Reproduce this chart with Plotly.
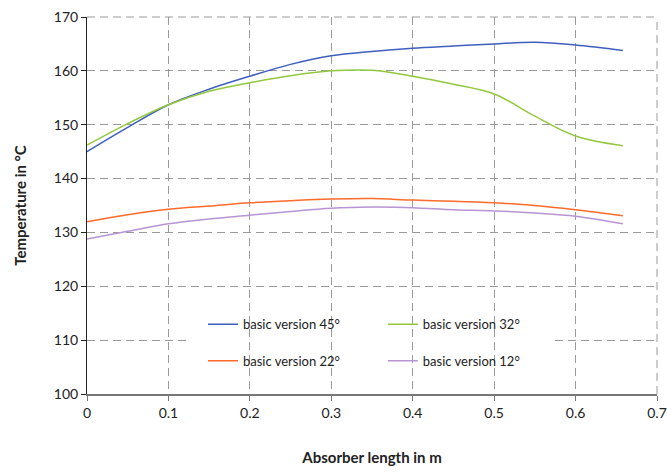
import plotly.graph_objects as go

x_m = [0, 0.05, 0.1, 0.15, 0.2, 0.25, 0.3, 0.35, 0.4, 0.45, 0.5, 0.55, 0.6, 0.658]
t45 = [145.0, 149.5, 153.7, 156.6, 159.0, 161.2, 162.8, 163.6, 164.2, 164.6, 165.0, 165.3, 164.8, 163.8]
t32 = [146.2, 150.2, 153.7, 156.2, 157.8, 159.1, 160.0, 160.1, 159.0, 157.5, 155.7, 151.6, 147.9, 146.1]
t22 = [132.0, 133.3, 134.3, 134.9, 135.5, 135.9, 136.2, 136.3, 136.0, 135.8, 135.5, 135.0, 134.2, 133.1]
t12 = [128.8, 130.2, 131.6, 132.5, 133.2, 133.9, 134.5, 134.7, 134.6, 134.2, 134.0, 133.6, 133.0, 131.6]

x_ticks = [0, 0.1, 0.2, 0.3, 0.4, 0.5, 0.6, 0.7]
x_ticktext = ["0", "0.1", "0.2", "0.3", "0.4", "0.5", "0.6", "0.7"]
y_ticks = [100, 110, 120, 130, 140, 150, 160, 170]

names = ["basic version 45°", "basic version 32°", "basic version 22°", "basic version 12°"]
colors = ["#3F5FBF", "#92C83E", "#FF6B2B", "#B894D4"]
series = [t45, t32, t22, t12]
legend_ids = ["legend2", "legend3", "legend4", "legend5"]
legend_pos = [(0.2035, 0.185), (0.519, 0.185), (0.2035, 0.088), (0.519, 0.088)]

FONT = "Lato, 'Open Sans', sans-serif"
GRID = "#9a9a9a"
DASH = "8px,5px"

fig = go.Figure()
for n, c, s, lg in zip(names, colors, series, legend_ids):
    fig.add_trace(go.Scatter(x=x_m, y=s, mode="lines", name=n, legend=lg,
                             line=dict(color=c, width=1.5, shape="spline")))

legend_layout = {}
for lg, (lx, ly) in zip(legend_ids, legend_pos):
    legend_layout[lg] = dict(x=lx, y=ly, xanchor="left", yanchor="middle",
                             bgcolor="rgba(0,0,0,0)",
                             font=dict(size=13, family=FONT, color="#222"))

fig.update_layout(
    width=667, height=472,
    margin=dict(l=87, r=10, t=17, b=78),
    plot_bgcolor="white", paper_bgcolor="white",
    font=dict(family=FONT, size=14, color="#222"),
    xaxis=dict(range=[0, 0.7], tickvals=x_ticks, ticktext=x_ticktext, automargin=False,
               ticklabeloverflow="allow",
               showgrid=True, gridcolor=GRID, griddash=DASH, gridwidth=1,
               showline=True, linecolor="#777", linewidth=2,
               ticks="outside", ticklen=5, tickcolor="#777",
               zeroline=False,
               title=dict(text="<b>Absorber length in m</b>", font=dict(size=15), standoff=33)),
    yaxis=dict(range=[100, 170], tickvals=y_ticks, automargin=False,
               ticklabeloverflow="allow",
               showgrid=True, gridcolor=GRID, griddash=DASH, gridwidth=1,
               showline=True, linecolor="#222", linewidth=1,
               ticks="outside", ticklen=5, tickcolor="#222",
               zeroline=False,
               title=dict(text="<b>Temperature in °C</b>", font=dict(size=15), standoff=23)),
    **legend_layout,
)

# edge gridlines (top and right) that Plotly omits at the range ends
fig.add_shape(type="line", xref="paper", yref="paper", x0=0, x1=1, y0=1, y1=1,
              line=dict(color=GRID, width=1, dash=DASH), layer="between")
fig.add_shape(type="line", xref="paper", yref="paper", x0=1, x1=1, y0=0, y1=1,
              line=dict(color=GRID, width=1, dash=DASH), layer="between")
# white segment hiding the 110 gridline behind the legend, as in the original
fig.add_shape(type="line", xref="x", yref="y", x0=0.123, x1=0.572, y0=110, y1=110,
              line=dict(color="white", width=2), layer="between")

fig.write_html("out.html", config={"displayModeBar": False},
               post_script="document.body.style.margin='0';document.body.style.overflow='hidden';")
